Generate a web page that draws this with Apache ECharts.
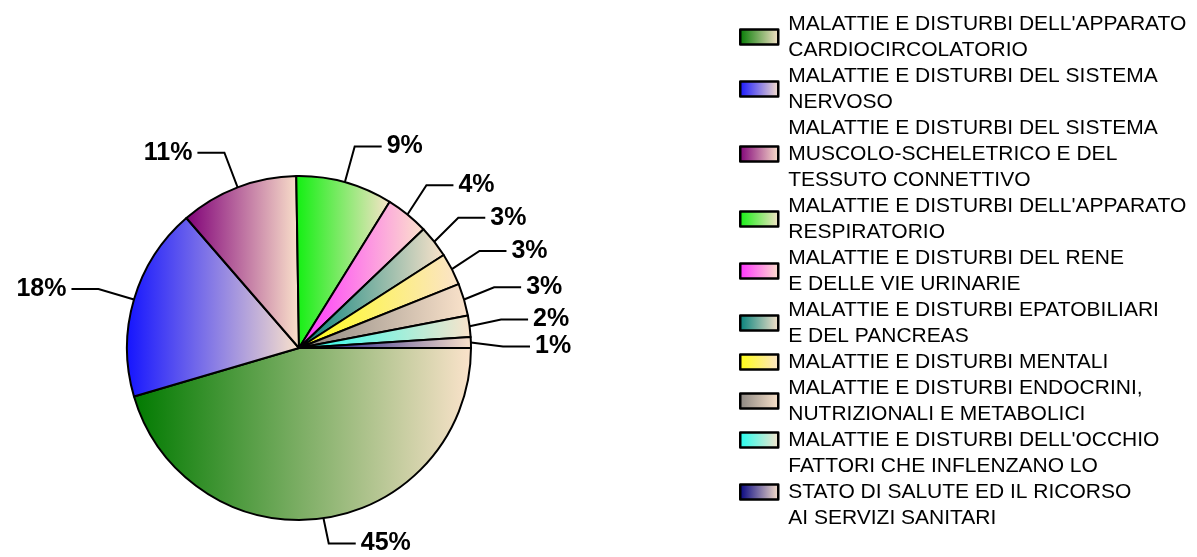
<!DOCTYPE html>
<html style="height: 100%">
   <head>
       <meta charset="utf-8">
   </head>
   <body style="height: 100%; margin: 0; background: #fff">
       <div id="container" style="height: 100%"></div>
       <script type="text/javascript" src="https://cdn.jsdelivr.net/npm/echarts@6/dist/echarts.min.js"></script>
       <script type="text/javascript">
var categories = [
    "MALATTIE E DISTURBI DELL'APPARATO\nCARDIOCIRCOLATORIO",
    "MALATTIE E DISTURBI DEL SISTEMA\nNERVOSO",
    "MALATTIE E DISTURBI DEL SISTEMA\nMUSCOLO-SCHELETRICO E DEL\nTESSUTO CONNETTIVO",
    "MALATTIE E DISTURBI DELL'APPARATO\nRESPIRATORIO",
    "MALATTIE E DISTURBI DEL RENE\nE DELLE VIE URINARIE",
    "MALATTIE E DISTURBI EPATOBILIARI\nE DEL PANCREAS",
    "MALATTIE E DISTURBI MENTALI",
    "MALATTIE E DISTURBI ENDOCRINI,\nNUTRIZIONALI E METABOLICI",
    "MALATTIE E DISTURBI DELL'OCCHIO",
    "FATTORI CHE INFLENZANO LO\nSTATO DI SALUTE ED IL RICORSO\nAI SERVIZI SANITARI"
];
var values = [45, 18, 11, 9, 4, 3, 3, 3, 2, 1];
var startColors = ['#007a00', '#1414ff', '#800078', '#10f010', '#ff30ff',
                   '#00807a', '#ffff10', '#8a8580', '#20fff0', '#000080'];
var endColor = '#fbe3cb';

var dom = document.getElementById("container");
var myChart = echarts.init(dom);

// horizontal gradient per slice, strong colour on the left
function grad(c) {
    return new echarts.graphic.LinearGradient(0, 0, 1, 0, [
        {offset: 0, color: c},
        {offset: 1, color: endColor}
    ]);
}

var data = categories.map(function (name, i) {
    return {name: name, value: values[i], itemStyle: {color: grad(startColors[i])}};
});

var option = {
    animation: false,
    legend: {
        orient: 'vertical',
        left: 734,
        top: 6,
        icon: 'rect',
        itemWidth: 38,
        itemHeight: 15,
        itemGap: 0,
        selectedMode: false,
        itemStyle: {borderWidth: 2.5, borderColor: '#000'},
        textStyle: {
            fontFamily: 'Liberation Sans, Arial',
            fontSize: 21,
            lineHeight: 26,
            color: '#000',
            padding: [0, 0, 0, 5]
        },
        data: categories
    },
    series: [
        {
            type: 'pie',
            center: [299, 348],
            radius: 172,
            startAngle: 0,
            clockwise: true,
            itemStyle: {
                borderColor: '#000',
                borderWidth: 2
            },
            label: {
                formatter: '{c}%',
                fontFamily: 'Liberation Sans, Arial',
                fontWeight: 'bold',
                fontSize: 25,
                color: '#000'
            },
            labelLine: {
                length: 37,
                length2: 27,
                lineStyle: {color: '#000', width: 2}
            },
            data: data
        }
    ]
};
myChart.setOption(option);
       </script>
   </body>
</html>
